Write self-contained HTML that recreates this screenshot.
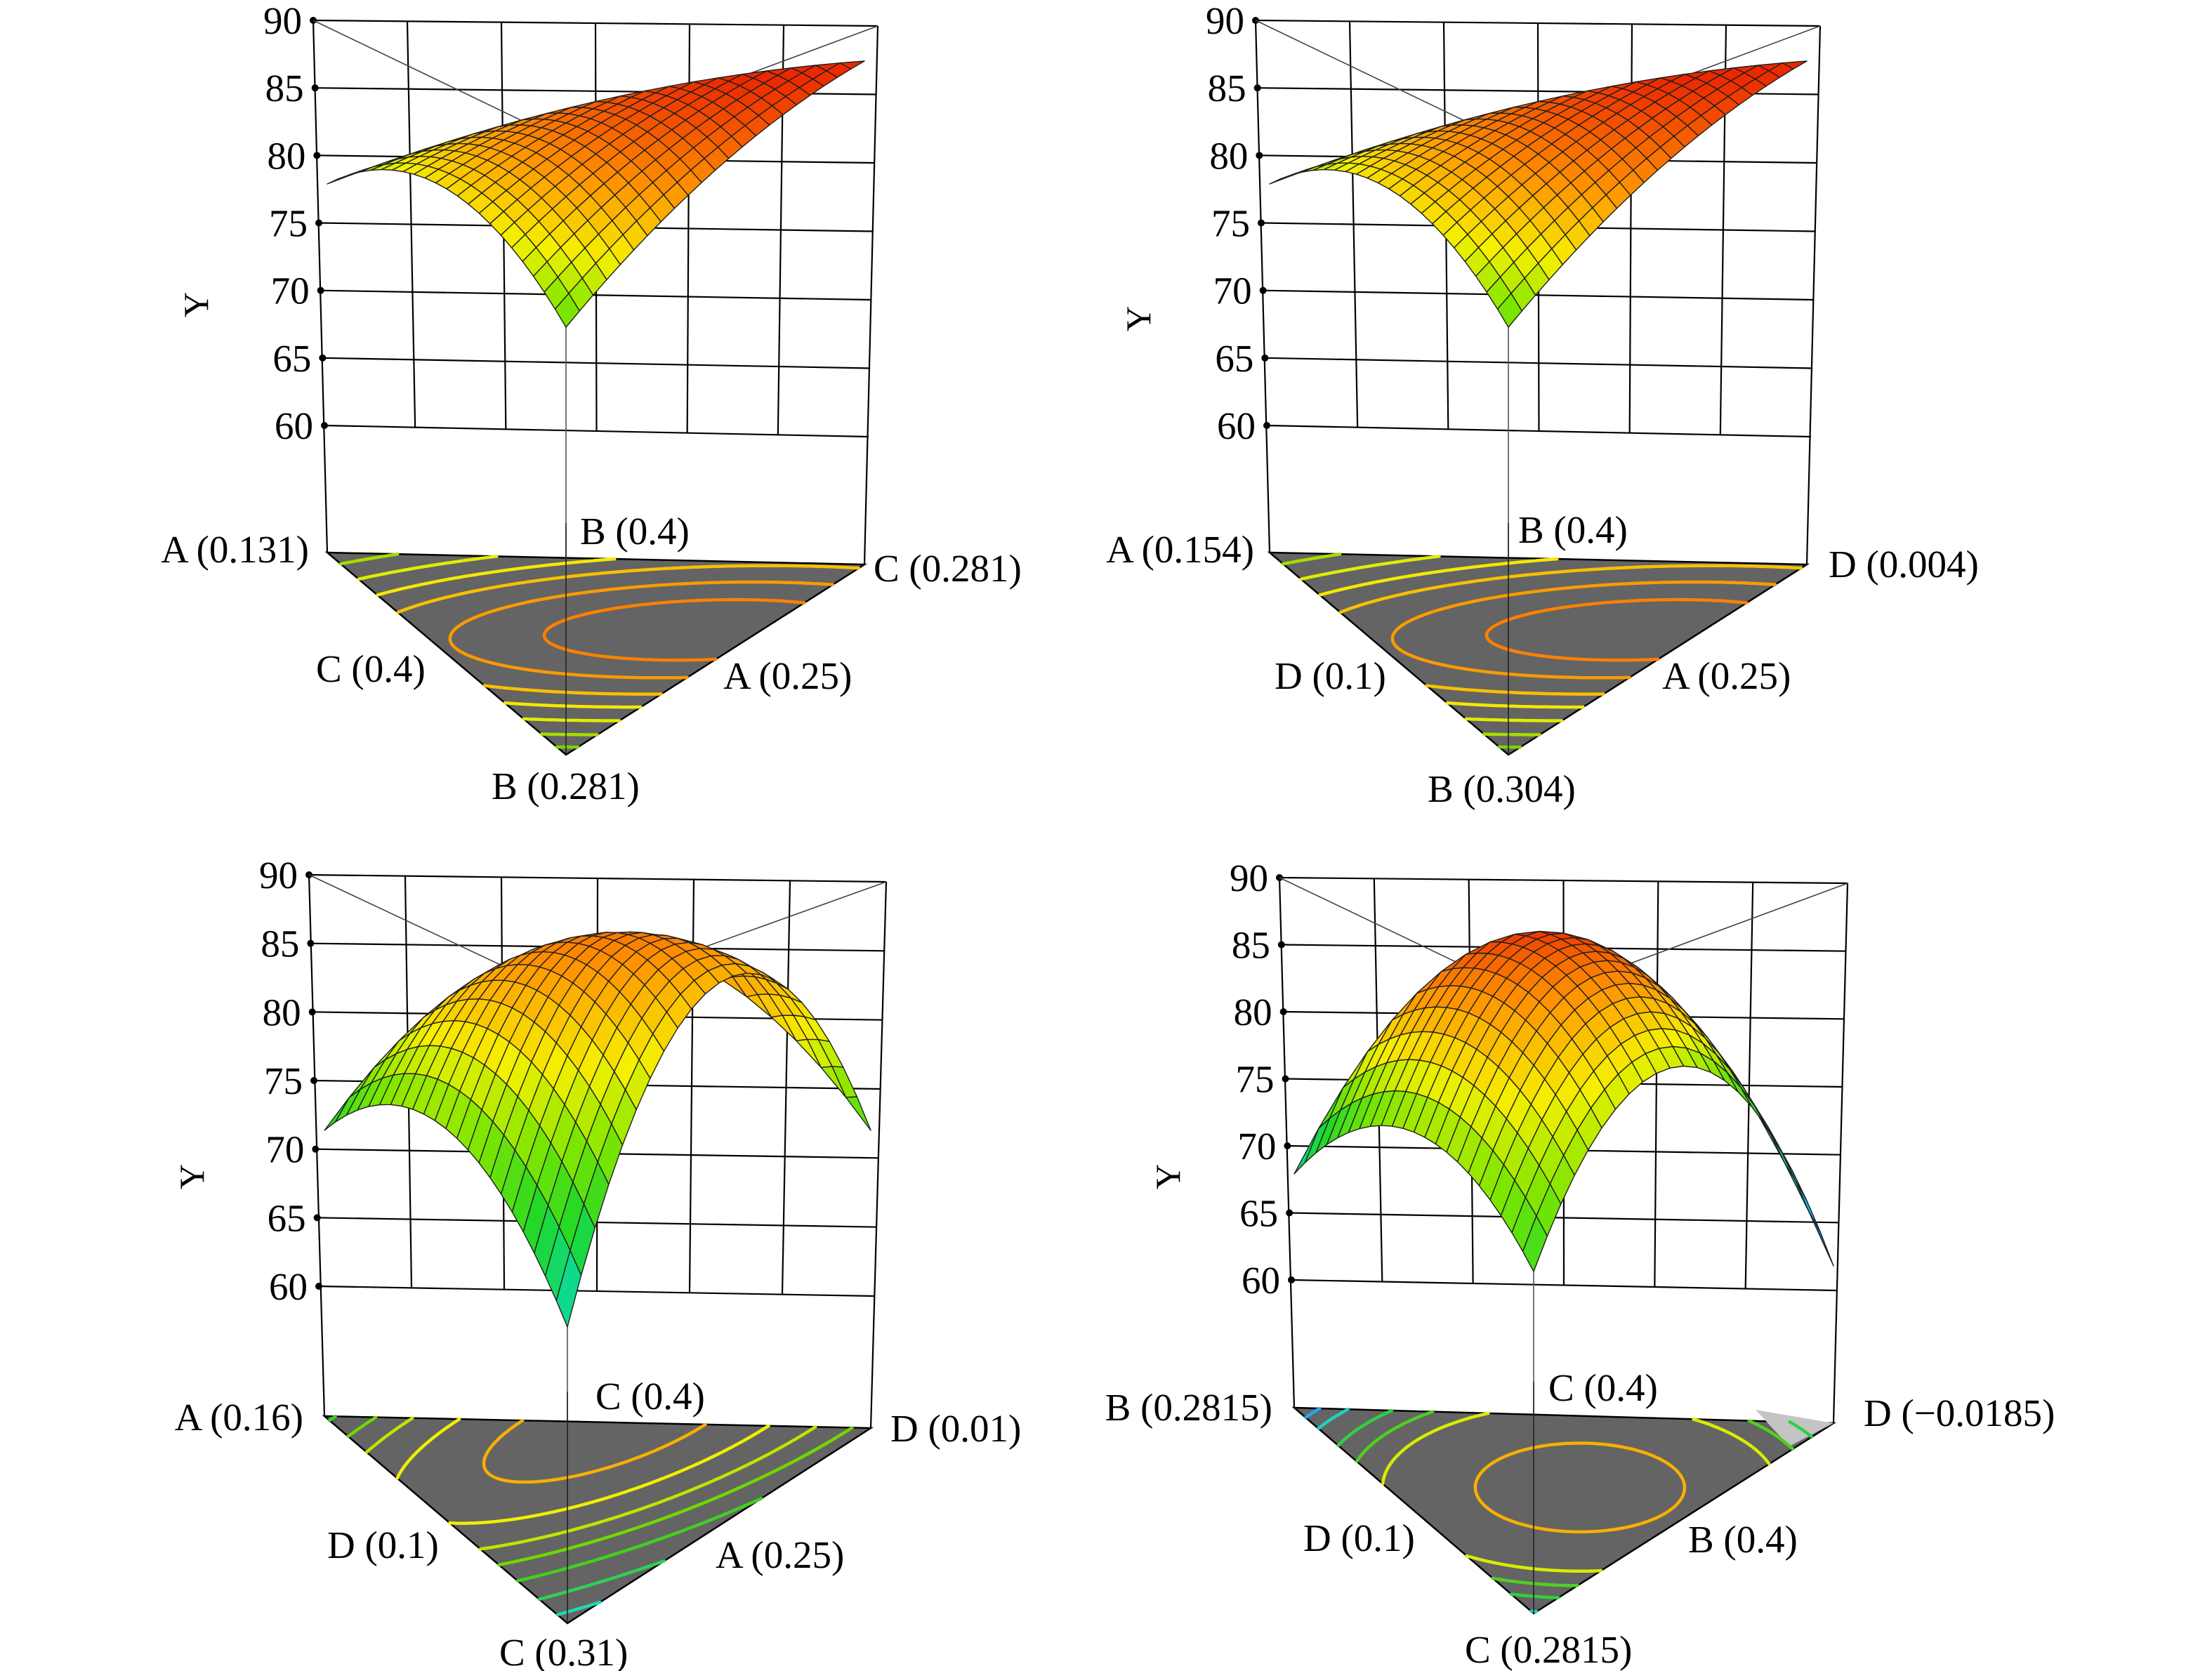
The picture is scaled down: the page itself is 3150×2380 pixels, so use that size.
<!DOCTYPE html>
<html><head><meta charset="utf-8">
<style>
html,body{margin:0;padding:0;background:#fff;}
#wrap{width:3150px;height:2380px;overflow:hidden;position:relative;background:#fff;}
svg text{font-family:"Liberation Serif","Times New Roman",serif;fill:#000;}
</style></head>
<body><div id="wrap"><svg id="s" width="3150" height="2380" viewBox="0 0 3150 2380" xmlns="http://www.w3.org/2000/svg">
<g id="g"></g>
</svg></div>
<script>
(function(){
function lerp(p,q,t){return [p[0]+(q[0]-p[0])*t,p[1]+(q[1]-p[1])*t];}
var stops=[[0,[20,40,255]],[0.18,[0,220,240]],[0.38,[30,215,40]],[0.5,[130,230,0]],[0.62,[245,240,0]],[0.78,[255,150,0]],[1,[235,40,0]]];
function cmap(t){t=Math.max(0,Math.min(1,t));for(var i=1;i<stops.length;i++){if(t<=stops[i][0]){var a=stops[i-1],b=stops[i],u=(t-a[0])/(b[0]-a[0]);return 'rgb('+[0,1,2].map(function(k){return Math.round(a[1][k]+(b[1][k]-a[1][k])*u);}).join(',')+')';}}return 'rgb(235,40,0)';}
function q(c,a,b,f){return a*c[0]+b*c[1]+f*c[2]+a*b*c[3]+a*f*c[4]+b*f*c[5];}
var out=[];
function T(txt,x,y,anc,fs){out.push('<text x="'+x+'" y="'+y+'" font-size="'+(fs||55)+'" text-anchor="'+(anc||'start')+'">'+txt+'</text>');}
function panel(P){
  var t90=P.t90,t60=P.t60,tr=P.tr,r60=P.r60,i,j;
  for(i=0;i<7;i++){var u=i/6;var a=lerp(t90,t60,u),b=lerp(tr,r60,u);
    out.push('<line x1="'+a[0]+'" y1="'+a[1]+'" x2="'+b[0]+'" y2="'+b[1]+'" stroke="#000" stroke-width="2.2"/>');
    out.push('<circle cx="'+a[0]+'" cy="'+a[1]+'" r="5" fill="#000"/>');
    T(String(90-5*i),a[0]-16,a[1]+19,'end');}
  for(j=1;j<6;j++){var v=j/6;var a2=lerp(t90,tr,v),b2=lerp(t60,r60,v);
    out.push('<line x1="'+a2[0]+'" y1="'+a2[1]+'" x2="'+b2[0]+'" y2="'+b2[1]+'" stroke="#000" stroke-width="2.2"/>');}
  out.push('<line x1="'+t90[0]+'" y1="'+t90[1]+'" x2="'+P.L[0]+'" y2="'+P.L[1]+'" stroke="#000" stroke-width="2.2"/>');
  out.push('<line x1="'+tr[0]+'" y1="'+tr[1]+'" x2="'+P.R[0]+'" y2="'+P.R[1]+'" stroke="#000" stroke-width="2.2"/>');
  out.push('<line x1="'+t90[0]+'" y1="'+t90[1]+'" x2="'+P.back[0]+'" y2="'+P.back[1]+'" stroke="#444" stroke-width="1.6"/>');
  out.push('<line x1="'+tr[0]+'" y1="'+tr[1]+'" x2="'+P.back[0]+'" y2="'+P.back[1]+'" stroke="#444" stroke-width="1.6"/>');
  out.push('<line x1="'+P.back[0]+'" y1="'+P.back[1]+'" x2="'+P.F[0]+'" y2="'+P.F[1]+'" stroke="#555" stroke-width="1.6"/>');
  function fl(a,b,c){return [a*P.L[0]+b*P.R[0]+c*P.F[0],a*P.L[1]+b*P.R[1]+c*P.F[1]];}
  out.push('<polygon points="'+[P.L,P.R,P.F].map(function(p){return p.join(',');}).join(' ')+'" fill="#646464" stroke="#000" stroke-width="2.5"/>');
  if(P.gray){out.push('<polygon points="'+P.gray.map(function(p){return p.join(',');}).join(' ')+'" fill="#c4c4c4"/>');}
  var N=100,k;
  for(k=0;k<P.levels.length;k++){var lv=P.levels[k];var d='';
    for(i=0;i<N;i++)for(j=0;j<N-i;j++){
      var tris=[[[i,j],[i+1,j],[i,j+1]]];
      if(i+j+2<=N)tris.push([[i+1,j],[i+1,j+1],[i,j+1]]);
      tris.forEach(function(tt){
        var vs=tt.map(function(p){var a=p[0]/N,b=p[1]/N,c=1-a-b;return {p:fl(a,b,c),v:P.cf(a,b,c)-lv};});
        var pts=[];
        for(var e=0;e<3;e++){var A=vs[e],B=vs[(e+1)%3];if((A.v<0)!=(B.v<0)){var s=A.v/(A.v-B.v);pts.push(lerp(A.p,B.p,s));}}
        if(pts.length==2)d+='M'+pts[0][0].toFixed(1)+' '+pts[0][1].toFixed(1)+'L'+pts[1][0].toFixed(1)+' '+pts[1][1].toFixed(1);
      });}
    out.push('<path d="'+d+'" stroke="'+P.lcol[k]+'" stroke-width="4.5" stroke-linecap="round" fill="none"/>');}
  out.push('<line x1="'+P.F[0]+'" y1="'+(P.F[1]-330)+'" x2="'+P.F[0]+'" y2="'+P.F[1]+'" stroke="#222" stroke-width="1.6"/>');
  var n=22,cells=[];
  function sp(i,j){var a=i/n,b=j/n,c=1-a-b;var f=fl(a,b,c);return [f[0],f[1]-q(P.lift,a,b,c)];}
  for(i=0;i<n;i++)for(j=0;j<n-i;j++){
    var pts2,ci,cj;
    if(i+j+2<=n){pts2=[[i,j],[i+1,j],[i+1,j+1],[i,j+1]];ci=i+0.5;cj=j+0.5;}
    else{pts2=[[i,j],[i+1,j],[i,j+1]];ci=i+1/3;cj=j+1/3;}
    var a=ci/n,b=cj/n,c=1-a-b;
    cells.push({c:c,pts:pts2,t:q(P.t,a,b,c)});}
  cells.sort(function(x,y){return x.c-y.c;});
  cells.forEach(function(cl){
    out.push('<polygon points="'+cl.pts.map(function(p){var s=sp(p[0],p[1]);return s[0].toFixed(1)+','+s[1].toFixed(1);}).join(' ')+'" fill="'+cmap(cl.t)+'" stroke="#1e1e1e" stroke-width="1.4" stroke-linejoin="round"/>');});
  P.labels.forEach(function(l){T(l[0],l[1],l[2],l[3]);});
  out.push('<text x="0" y="0" font-size="50" text-anchor="middle" transform="translate('+P.ylab[0]+','+P.ylab[1]+') rotate(-90)">Y</text>');
}
var TLlift=[525,717,609,120,380,136],TLt=[0.4,1.0,0.45,0.8,0.9,0.4];
function cfTL(a,b,c){return 1-1.2*(a-0.1)*(a-0.1)-4*(c-0.35)*(c-0.35);}
var TLlev=[-0.5,-0.2,0.1,0.35,0.55,0.75,0.9];
var TLcol=['#7cd400','#a8dc00','#e0ec00','#f4e800','#f8c000','#fa9a00','#ff8000'];
panel({t90:[446,29],t60:[462,606],tr:[1250,37],r60:[1237,622],L:[466,787],R:[1231,804],F:[806,1075],back:[806,202],
  lift:TLlift,t:TLt,cf:cfTL,levels:TLlev,lcol:TLcol,ylab:[296,434],
  labels:[["A (0.131)",440,801,"end"],["B (0.4)",826,775,"start"],["C (0.281)",1244,828,"start"],["C (0.4)",450,971,"start"],["A (0.25)",1030,981,"start"],["B (0.281)",700,1138,"start"]]});
var dx=1342;
panel({t90:[446+dx,29],t60:[462+dx,606],tr:[1250+dx,37],r60:[1237+dx,622],L:[466+dx,787],R:[1231+dx,804],F:[806+dx,1075],back:[806+dx,202],
  lift:TLlift,t:TLt,cf:cfTL,levels:TLlev,lcol:TLcol,ylab:[1638,454],
  labels:[["A (0.154)",1786,801,"end"],["B (0.4)",2162,773,"start"],["D (0.004)",2604,822,"start"],["D (0.1)",1815,981,"start"],["A (0.25)",2367,981,"start"],["B (0.304)",2033,1142,"start"]]});
panel({t90:[440,1246],t60:[454,1832],tr:[1262,1256],r60:[1246,1846],L:[462,2017],R:[1240,2034],F:[808,2312],back:[808,1419],
  lift:[407,424,422,1084,570,1400],t:[0.36,0.42,0.22,1.8,0.8,1.6],
  cf:function(a,b,c){return 1-5*(a-0.47)*(a-0.47)-1.5*c*c;},
  levels:[-1.3,-0.8,-0.3,0.05,0.32,0.6,0.86],lcol:['#20d8b0','#30d050','#40d020','#70d800','#c0e400','#eef000','#f8b000'],ylab:[290,1676],
  labels:[["A (0.16)",432,2037,"end"],["C (0.4)",848,2007,"start"],["D (0.01)",1268,2053,"start"],["D (0.1)",466,2219,"start"],["A (0.25)",1019,2233,"start"],["C (0.31)",711,2372,"start"]]});
panel({t90:[1822,1250],t60:[1839,1823],tr:[2631,1258],r60:[2615,1838],L:[1843,2005],R:[2611,2027],F:[2184,2298],back:[2184,1423],
  lift:[333,224,487,1634,516,1154],t:[0.25,0.0,0.4,3.4,0.7,1.4],
  cf:function(a,b,c){return 1-6*((a-0.27)*(a-0.27)+(b-0.37)*(b-0.37)+(c-0.36)*(c-0.36));},
  levels:[-3.2,-2.6,-1.8,-1.2,-0.6,0.55],lcol:['#20a8f0','#20d0c0','#30d040','#50d020','#d8ec00','#f8b000'],ylab:[1680,1676],
  gray:[[2500,2008],[2611,2027],[2548,2060]],
  labels:[["B (0.2815)",1812,2023,"end"],["C (0.4)",2205,1995,"start"],["D (\u22120.0185)",2654,2031,"start"],["D (0.1)",1856,2209,"start"],["B (0.4)",2404,2211,"start"],["C (0.2815)",2086,2368,"start"]]});
document.getElementById('g').innerHTML=out.join('');
})();
</script>
</body></html>
